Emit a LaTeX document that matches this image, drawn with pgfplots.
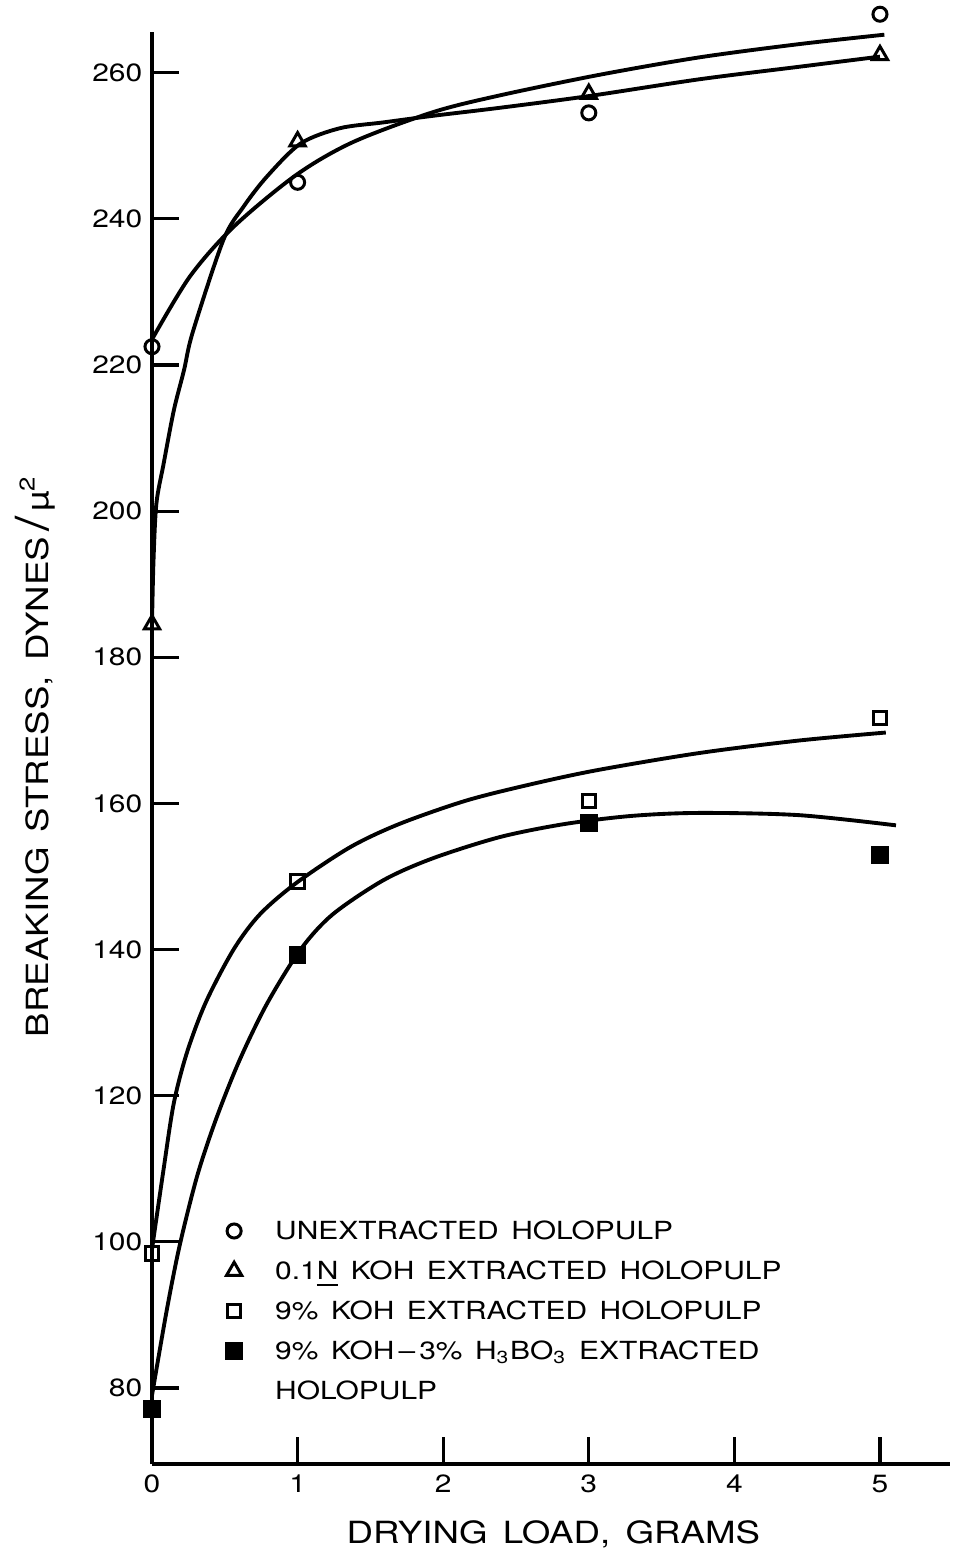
\documentclass[border=0pt]{standalone}
\usepackage{fontspec}
\setmainfont{TeX Gyre Heros}[FakeStretch=1.2, WordSpace=1.5]
\usepackage{pgfplots}
\pgfplotsset{compat=1.18}
\begin{document}
\begin{tikzpicture}
\useasboundingbox (-15.2mm,-9.1mm) rectangle (81.4mm,146.4mm);
\begin{axis}[
  at={(0,0)}, anchor=south west,
  scale only axis, width=79.8mm, height=143.2mm,
  xmin=0, xmax=5.481, ymin=69.6, ymax=265.57,
  axis x line=bottom, axis y line=left,
  axis line style={-, line width=1.15pt},
  tick align=inside, major tick length=2.7mm,
  every tick/.style={black, line width=0.9pt},
  xtick={0,1,2,3,4,5}, ytick={80,100,...,260},
  minor tick num=0,
  /pgf/number format/assume math mode=true,
  tick label style={font=\fontsize{7.1}{8}\selectfont},
  yticklabel style={inner sep=0pt, xshift=-0.9mm},
  xticklabel style={inner sep=0pt, yshift=-1.0mm},
  clip=false,
  xlabel={DRYING LOAD, GRAMS},
  ylabel={BREAKING STRESS, DYNES\,{\fontsize{13}{13}\selectfont /}\,µ\textsuperscript{2}},
  every axis x label/.style={at={(axis description cs:0.503,-0.0552)}, anchor=base, inner sep=0pt, font=\fontsize{8.7}{10}\selectfont},
  every axis y label/.style={at={(axis description cs:-0.1303,0.4944)}, anchor=base, rotate=90, inner sep=0pt, font=\fontsize{8.7}{10}\selectfont},
  legend cell align=left,
  legend style={at={(axis description cs:0.0934,0.169)}, anchor=north west, draw=none, fill=none,
    inner sep=0pt, outer sep=0pt, row sep=2.2mm, column sep=3.35mm,
    font=\fontsize{7.1}{8}\selectfont,
    nodes={inner sep=0pt, text height=1.8mm, text depth=0pt}},
  legend image code/.code={\draw[#1] plot coordinates {(0cm,0cm)};},
]
% fitted curves
\addplot[black, line width=1.1pt, smooth, forget plot] coordinates {
 (0,223.5) (0.26,232.1) (0.56,238.9) (0.99,246.0) (1.38,250.5) (1.93,254.6)
 (2.39,256.9) (3.07,259.7) (3.76,262.1) (4.44,263.9) (5.03,265.2)};
\addplot[black, line width=1.1pt, smooth, forget plot] coordinates {
 (0,184.5) (0.01,193) (0.03,201) (0.08,206.5) (0.15,213.8) (0.22,219.3) (0.28,224.5)
 (0.49,237.1) (0.63,241.7) (0.79,245.8) (1.02,250.3) (1.29,252.4) (1.59,253.2)
 (1.93,254.1) (2.39,255.2) (3.0,256.8) (3.76,259.1) (4.44,260.8) (5.0,262.2)};
\addplot[black, line width=1.1pt, smooth, forget plot] coordinates {
 (0,99) (0.08,110) (0.15,119.0) (0.24,125.9) (0.37,132.8) (0.56,140.0) (0.74,144.8)
 (0.99,149.1) (1.36,154.0) (1.70,157.2) (2.16,160.4) (2.62,162.7) (3.07,164.6)
 (3.76,166.9) (4.44,168.6) (5.04,169.7)};
\addplot[black, line width=1.1pt, smooth, forget plot] coordinates {
 (0,79) (0.10,90.5) (0.19,99.5) (0.31,109.0) (0.44,116.8) (0.6,124.8) (0.79,132.6)
 (1.02,140.0) (1.24,144.8) (1.59,149.5) (1.93,152.5) (2.39,155.4) (2.84,157.2)
 (3.3,158.3) (3.76,158.7) (4.44,158.4) (5.11,157)};
% data points
\addplot[black, only marks, mark=o, mark size=2pt, mark options={fill=white, line width=0.85pt}]
 coordinates {(0,222.5) (1,245) (3,254.5) (5,268)};
\addlegendentry{UNEXTRACTED HOLOPULP}
\addplot[black, only marks, mark=triangle, mark size=2.5pt, mark options={fill=white, line width=0.85pt}]
 coordinates {(0,184.5) (1,250.6) (3,257.1) (5,262.4)};
\addlegendentry{0.1\underline{N} KOH EXTRACTED HOLOPULP}
\addplot[black, only marks, mark=square, mark size=1.9pt, mark options={fill=white, line width=0.85pt}]
 coordinates {(0,98.4) (1,149.3) (3,160.3) (5,171.7)};
\addlegendentry{9\% KOH EXTRACTED HOLOPULP}
\addplot[black, only marks, mark=square*, mark size=2.1pt, mark options={fill=black, line width=0.85pt}]
 coordinates {(0,77.1) (1,139.3) (3,157.3) (5,152.9)};
\addlegendentry{9\% KOH\,--\,3\% H\textsubscript{3}BO\textsubscript{3} EXTRACTED}
\addlegendimage{empty legend}
\addlegendentry{HOLOPULP}
\end{axis}
\end{tikzpicture}
\end{document}
